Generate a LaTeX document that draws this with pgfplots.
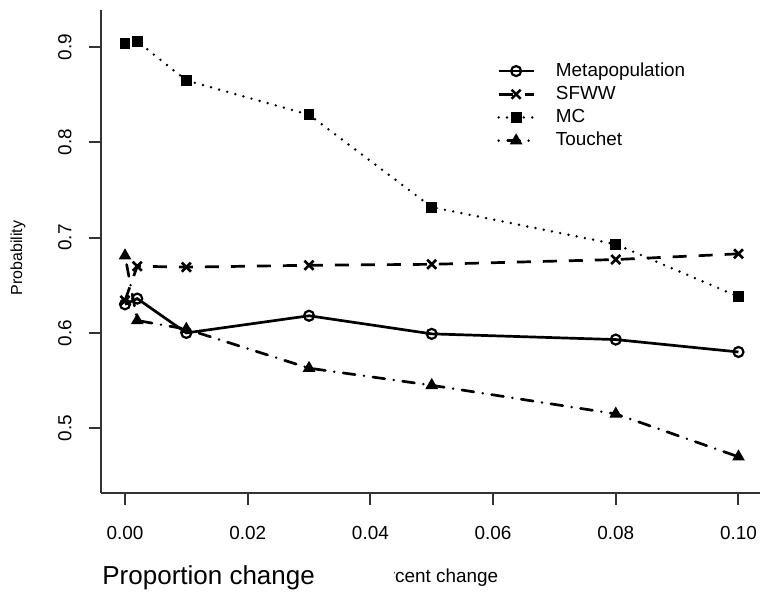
\documentclass[border=0pt]{standalone}
\usepackage{fontspec}
\setmainfont{Liberation Sans}
\usepackage{pgfplots}
\pgfplotsset{compat=1.18}
\newcommand\lab{\fontsize{9.45bp}{11bp}\selectfont}
\begin{document}
\begin{tikzpicture}[x=0.5bp,y=0.5bp]
\begin{axis}[
  at={(0,0)}, anchor=south west,
  scale only axis, width=331bp, height=241.5bp,
  xmin=-0.00391, xmax=0.1040, ymin=0.4320, ymax=0.9389,
  axis x line*=bottom, axis y line*=left,
  axis line style={line width=1bp, color=black!80},
  xtick pos=left, ytick pos=left,
  tick align=outside, major tick length=6bp,
  tick style={line width=1bp, color=black!80},
  xtick={0,0.02,0.04,0.06,0.08,0.1},
  xticklabels={0.00,0.02,0.04,0.06,0.08,0.10},
  ytick={0.5,0.6,0.7,0.8,0.9},
  yticklabels={0.5,0.6,0.7,0.8,0.9},
  /pgf/number format/assume math mode=true,
  tick label style={font=\lab, inner sep=0pt},
  xticklabel style={anchor=north, yshift=-10.5bp},
  % rotated labels: a local yshift moves them away from the axis
  yticklabel style={rotate=90, anchor=south, yshift=8.5bp},
  clip=false,
  legend cell align=left,
  legend style={at={(rel axis cs:0.598,0.893)}, anchor=north west,
    draw=none, fill=none, font=\lab, inner sep=0pt, row sep=2.6bp,
    column sep=10.5bp,
    nodes={inner sep=0pt, text height=7bp, text depth=2bp}},
  legend image code/.code={\draw[mark repeat=2,mark phase=2,#1]
    plot coordinates {(0bp,0bp) (8.75bp,0bp) (17.5bp,0bp)};},
  every axis plot/.append style={line width=1.35bp, black},
]
% Metapopulation
\addplot[solid, mark=o, mark size=2.5bp, mark options={solid, line width=1.1bp}]
  coordinates {(0,0.630) (0.002,0.636) (0.01,0.600) (0.03,0.618) (0.05,0.599) (0.08,0.593) (0.10,0.580)};
% SFWW
\addplot[dash pattern=on 7bp off 6bp, mark=x, mark size=3.2bp, mark options={solid, line width=1.3bp}]
  coordinates {(0,0.634) (0.002,0.670) (0.01,0.669) (0.03,0.671) (0.05,0.672) (0.08,0.677) (0.10,0.683)};
% MC
\addplot[line cap=round, dash pattern=on 0bp off 4.2bp, mark=square*, mark size=2.3bp, mark options={solid, line width=0.8bp}]
  coordinates {(0,0.904) (0.002,0.906) (0.01,0.865) (0.03,0.829) (0.05,0.732) (0.08,0.693) (0.10,0.638)};
% Touchet
\addplot[line cap=round, dash pattern=on 0bp off 4.5bp on 6bp off 4.5bp, mark=triangle*, mark size=2.9bp, mark options={solid, line width=0.8bp}]
  coordinates {(0,0.681) (0.002,0.613) (0.01,0.604) (0.03,0.563) (0.05,0.545) (0.08,0.515) (0.10,0.470)};
\legend{Metapopulation, SFWW, MC, Touchet}
\end{axis}
% axis titles
\node[font=\fontsize{8bp}{9bp}\selectfont, rotate=90] at (-83,235) {Probability};
\node[font=\lab, anchor=base] at (331,-90) {Percent change};
% overlaid caption
\fill[white] (-101,-99) rectangle (293,-60);
\node[font=\fontsize{13bp}{15bp}\selectfont, anchor=base west, inner sep=0pt] at (1,-92) {Proportion change};
\pgfresetboundingbox
\path[use as bounding box] (-101,-99) rectangle (659,493);
\end{tikzpicture}
\end{document}
